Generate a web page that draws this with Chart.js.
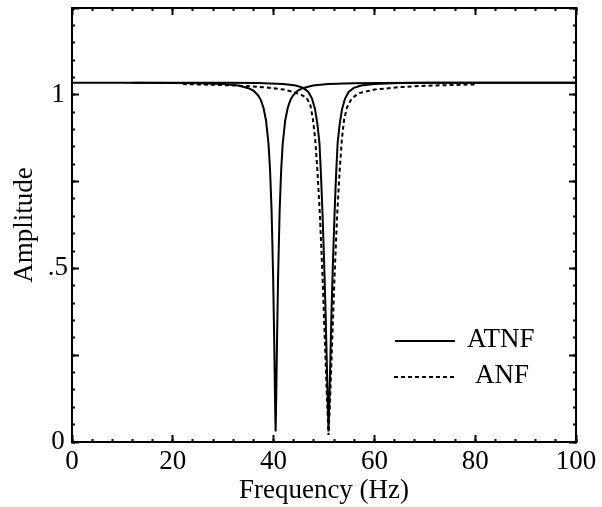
<!DOCTYPE html>
<html>
<head>
<meta charset="utf-8">
<script src="https://cdn.jsdelivr.net/npm/chart.js@4.4.1/dist/chart.umd.min.js"></script>
<style>
html,body{margin:0;padding:0;background:#fff;}
#wrap{width:602px;height:507px;}
</style>
</head>
<body>
<div id="wrap"><canvas id="c" width="602" height="507"></canvas></div>
<script>
// ---- data ----
const atnf1Freq = [0,10,20,25,30,33,35,36,37,37.5,38,38.5,39,39.3,39.6,39.9,40.1,40.3,40.4,40.5,40.7,40.9,41.2,41.5,41.8,42.3,42.8,43.3,43.8,44.8,45.8,47.8,50.8,55.8,60.8,70,80,90,100];
const atnf1Amp  = [1.035,1.035,1.034,1.033,1.031,1.027,1.019,1.012,0.997,0.984,0.962,0.926,0.857,0.783,0.667,0.482,0.312,0.108,0.03,0.108,0.312,0.482,0.667,0.783,0.857,0.926,0.962,0.984,0.997,1.012,1.019,1.027,1.031,1.033,1.034,1.035,1.035,1.035,1.035];

const atnf2Freq = [12,30.9,36.9,41.9,44.4,45.9,46.9,47.6,48.2,48.7,49.1,49.4,49.7,50.0,50.3,50.6,50.9,51.2,51.5,51.8,52.1,52.4,52.7,53.1,53.6,54.2,54.9,55.9,57.4,59.9,64.9,70.9,100];
const atnf2Amp  = [1.035,1.035,1.034,1.031,1.027,1.02,1.008,0.99,0.96,0.915,0.86,0.77,0.66,0.53,0.38,0.2,0.03,0.2,0.38,0.53,0.66,0.77,0.86,0.915,0.96,0.99,1.008,1.02,1.027,1.031,1.034,1.035,1.035];

const anfFreq = [22,30,35,38,40,42,44,45.5,46.6,47.3,47.8,48.25,48.7,49.2,49.7,50.2,50.6,50.9,51.2,51.6,52.1,52.6,53.1,53.55,54,54.6,55.5,57,60,65,70,75,80];
const anfAmp  = [1.031,1.028,1.025,1.022,1.019,1.015,1.008,1.0,0.99,0.97,0.93,0.873,0.78,0.65,0.48,0.28,0.12,0.02,0.12,0.28,0.48,0.65,0.78,0.873,0.93,0.965,0.99,1.005,1.015,1.022,1.026,1.028,1.03];

const seriesNames = ['ATNF', 'ANF'];

const xMajorTicks = [0,20,40,60,80,100];
const xMinorTicks = [0,4,8,12,16,20,24,28,32,36,40,44,48,52,56,60,64,68,72,76,80,84,88,92,96,100];
const yMajorTicks = [0,0.25,0.5,0.75,1,1.25];
const yMinorTicks = [0,0.05,0.1,0.15,0.2,0.25,0.3,0.35,0.4,0.45,0.5,0.55,0.6,0.65,0.7,0.75,0.8,0.85,0.9,0.95,1,1.05,1.1,1.15,1.2,1.25];
const yLabelValues = [0, 0.5, 1];
const yLabelTexts  = ['0', '.5', '1'];

const xTitle = 'Frequency (Hz)';
const yTitle = 'Amplitude';

// ---- chart ----
const toPts = (xs, ys) => xs.map((x, i) => ({x: x, y: ys[i]}));
const FONT = {family: "'Liberation Serif', 'Times New Roman', serif", size: 27};
const setTicks = (vals) => (s) => { s.ticks = vals.map(v => ({value: v})); };
const sizeTo = (w, h) => (s) => {
  if (w !== null) s.width = w;
  if (h !== null) s.height = h;
  s.paddingTop = 0; s.paddingBottom = 0; s.paddingLeft = 0; s.paddingRight = 0;
};

function axis(pos, vals, len, extra) {
  const o = {
    type: 'linear',
    position: pos,
    display: true,
    afterBuildTicks: setTicks(vals),
    ticks: {display: false, autoSkip: false},
    grid: {drawOnChartArea: false, drawTicks: true, tickLength: len, tickWidth: 2, tickColor: '#000'},
    border: {display: false}
  };
  return Object.assign(o, extra || {});
}

const xr = {min: 0, max: 100};
const yr = {min: 0, max: 1.25};

const insetLegend = {
  id: 'insetLegend',
  afterDatasetsDraw(chart) {
    const ctx = chart.ctx;
    const items = [
      {ds: 0, y: 341, x0: 395, x1: 455, tx: 467, dash: []},
      {ds: 2, y: 377, x0: 394, x1: 454, tx: 475, dash: [4, 3]}
    ];
    ctx.save();
    ctx.font = "27px 'Liberation Serif', 'Times New Roman', serif";
    ctx.fillStyle = '#000';
    ctx.strokeStyle = '#000';
    ctx.textBaseline = 'middle';
    ctx.textAlign = 'left';
    items.forEach(it => {
      ctx.lineWidth = 2;
      ctx.setLineDash(it.dash);
      ctx.beginPath();
      ctx.moveTo(it.x0, it.y);
      ctx.lineTo(it.x1, it.y);
      ctx.stroke();
      ctx.setLineDash([]);
      ctx.fillText(chart.data.datasets[it.ds].label, it.tx, it.y - 1);
    });
    ctx.restore();
  }
};

new Chart(document.getElementById('c'), {
  type: 'line',
  data: {
    datasets: [
      {label: seriesNames[0], data: toPts(atnf1Freq, atnf1Amp), borderColor: '#000', borderWidth: 2, pointRadius: 0, tension: 0, fill: false, xAxisID: 'x', yAxisID: 'y'},
      {label: seriesNames[0], data: toPts(atnf2Freq, atnf2Amp), borderColor: '#000', borderWidth: 2, pointRadius: 0, tension: 0, fill: false, xAxisID: 'x', yAxisID: 'y'},
      {label: seriesNames[1], data: toPts(anfFreq, anfAmp), borderColor: '#000', borderWidth: 2, borderDash: [4, 3], pointRadius: 0, tension: 0, fill: false, xAxisID: 'x', yAxisID: 'y'}
    ]
  },
  options: {
    responsive: false,
    animation: false,
    devicePixelRatio: 1,
    layout: {padding: {top: 8, right: 26, left: 0, bottom: 0}},
    plugins: {legend: {display: false}, tooltip: {enabled: false}},
    scales: {
      x: Object.assign(axis('bottom', xMajorTicks, -7, {
        weight: 1,
        ticks: {display: true, autoSkip: false, maxRotation: 0, color: '#000', font: FONT, padding: 11,
                callback: (v) => String(v)},
        border: {display: true, color: '#000', width: 2},
        title: {display: true, text: xTitle, color: '#000', font: FONT, padding: {top: 0, bottom: 0}},
        afterFit: sizeTo(null, 65)
      }), xr),
      xMinor: Object.assign(axis('bottom', xMinorTicks, -3, {weight: 0, afterFit: sizeTo(null, 0)}), xr),
      xTop: Object.assign(axis('top', xMajorTicks, -7, {weight: 1, border: {display: true, color: '#000', width: 2}, afterFit: sizeTo(null, 0)}), xr),
      xTopMinor: Object.assign(axis('top', xMinorTicks, -3, {weight: 0, afterFit: sizeTo(null, 0)}), xr),
      y: Object.assign(axis('left', yMajorTicks, -7, {
        weight: 1,
        ticks: {display: true, autoSkip: false, color: '#000', font: FONT, padding: 11, crossAlign: 'center',
                callback: (v) => { const i = yLabelValues.indexOf(v); return i >= 0 ? yLabelTexts[i] : ''; }},
        border: {display: true, color: '#000', width: 2},
        title: {display: true, text: yTitle, color: '#000', font: FONT, padding: {top: 9, bottom: 0}},
        afterFit: sizeTo(72, null)
      }), yr),
      yMinor: Object.assign(axis('left', yMinorTicks, -3, {weight: 0, afterFit: sizeTo(0, null)}), yr),
      yRight: Object.assign(axis('right', yMajorTicks, -7, {weight: 1, border: {display: true, color: '#000', width: 2}, afterFit: sizeTo(0, null)}), yr),
      yRightMinor: Object.assign(axis('right', yMinorTicks, -3, {weight: 0, afterFit: sizeTo(0, null)}), yr)
    }
  },
  plugins: [insetLegend]
});
</script>
</body>
</html>
